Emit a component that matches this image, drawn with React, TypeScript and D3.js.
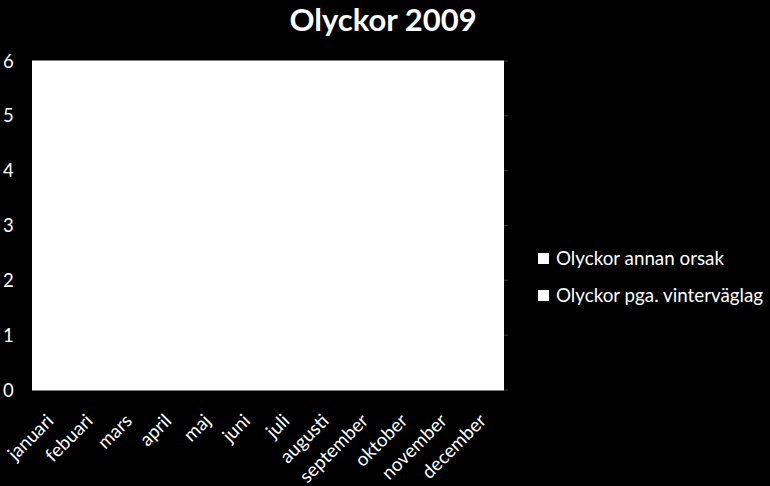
import React from "react";
import * as d3 from "d3";

const months = ["januari","febuari","mars","april","maj","juni","juli","augusti","september","oktober","november","december"];
const seriesNames = ["Olyckor annan orsak", "Olyckor pga. vinterväglag"];
const annanOrsak = [0,0,0,0,0,0,0,0,0,0,0,0];
const vintervaglag = [0,0,0,0,0,0,0,0,0,0,0,0];
const yTicks = [0,1,2,3,4,5,6];
const title = "Olyckor 2009";

const W = 770, H = 486;
const left = 32, right = 504, top = 61, bottom = 390;
const FONT = "Lato, 'Open Sans', sans-serif";

export default function App() {
  const x = d3.scaleBand<string>().domain(months).range([left, right]).paddingInner(0.5).paddingOuter(0.25);
  const xc = d3.scaleBand<string>().domain(months).range([left, right]);
  const y = d3.scaleLinear().domain([0, 6]).range([bottom, top]);
  const stack = d3.stack<any>().keys(["a", "b"]);
  const rows = months.map((m, i) => ({ m, a: annanOrsak[i], b: vintervaglag[i] }));
  const layers = stack(rows);
  return (
    <div style={{ position: "absolute", left: 0, top: 0, width: W, height: H, background: "#000" }}>
      <svg width={W} height={H} style={{ display: "block" }}>
        <rect x={0} y={0} width={W} height={H} fill="#000" />
        <text x={383} y={31} textAnchor="middle" fontFamily={FONT} fontWeight="bold" fontSize={31} fill="#fff">{title}</text>
        <rect x={left} y={top} width={right - left} height={bottom - top} fill="#fff" />
        {yTicks.map(t => (
          <g key={t}>
            <line x1={left} x2={right} y1={y(t)} y2={y(t)} stroke="#fff" strokeWidth={1} />
            <line x1={right} x2={right + 4} y1={y(t)} y2={y(t)} stroke="#3a3a3a" strokeWidth={1} />
            <text x={3} y={y(t) + 6.5} fontFamily={FONT} fontSize={18.5} fill="#fff">{t}</text>
          </g>
        ))}
        {layers.map((layer, li) => (
          <g key={li}>
            {layer.map((d: any, i: number) => (
              <rect key={i} x={x(months[i])} width={x.bandwidth()} y={y(d[1])} height={Math.max(0, y(d[0]) - y(d[1]))} fill="#fff" />
            ))}
          </g>
        ))}
        {months.map(m => {
          const cx = (xc(m) as number) + xc.bandwidth() / 2 + 3;
          const cy = 422;
          return (
            <text key={m} x={cx} y={cy} textAnchor="end" fontFamily={FONT} fontSize={18.8} fill="#fff"
              transform={`rotate(-45 ${cx} ${cy})`}>{m}</text>
          );
        })}
        {seriesNames.map((s, i) => (
          <g key={s}>
            <rect x={538} y={253 + i * 37} width={11} height={11} fill="#fff" />
            <text x={556} y={265 + i * 37} fontFamily={FONT} fontSize={18.8} fill="#fff">{s}</text>
          </g>
        ))}
      </svg>
    </div>
  );
}
